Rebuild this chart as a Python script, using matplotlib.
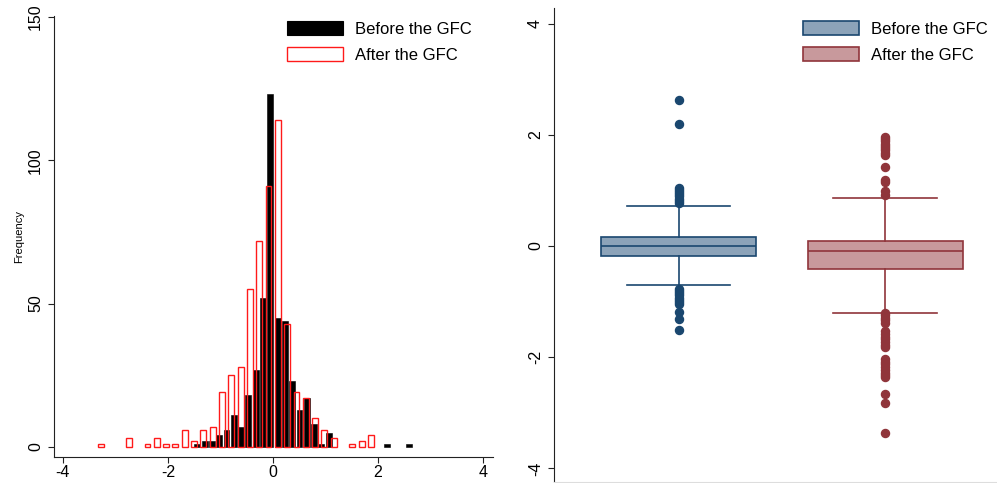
import matplotlib
matplotlib.use('Agg')
import matplotlib.pyplot as plt
from matplotlib.patches import Patch
import numpy as np

plt.rcParams['font.family'] = ['Liberation Sans', 'DejaVu Sans']

# ---------------- data ----------------
series_labels = ['Before the GFC', 'After the GFC']

# histogram (frequency) - Before the GFC
before_bin_start = -1.44
before_bin_width = 0.1389
before_counts = [1, 2, 2, 4, 6, 11, 7, 18, 27, 52, 123, 45, 44, 23, 13, 17, 8, 1, 5,
                 0, 0, 0, 0, 0, 0, 0, 1, 0, 0, 1]

# histogram (frequency) - After the GFC
after_bin_start = -3.276
after_bin_width = 0.1773
after_counts = [1, 0, 0, 3, 0, 1, 3, 1, 1, 6, 2, 6, 7, 19, 25, 28, 55, 72, 91, 114,
                43, 19, 17, 10, 6, 3, 0, 1, 2, 4]

hist_xticks = [-4, -2, 0, 2, 4]
hist_yticks = [0, 50, 100, 150]

# box plot summary - Before the GFC: whislo, q1, median, q3, whishi
before_box = [-0.70, -0.18, 0.0, 0.16, 0.72]
before_fliers = [0.77, 0.81, 0.85, 0.89, 0.93, 0.97, 1.01, 1.05, 2.19, 2.63,
                 -0.77, -0.81, -0.85, -0.89, -0.93, -0.97, -1.01, -1.04,
                 -1.19, -1.31, -1.51]

# box plot summary - After the GFC
after_box = [-1.21, -0.41, -0.09, 0.09, 0.86]
after_fliers = [1.64, 1.68, 1.72, 1.76, 1.80, 1.84, 1.88, 1.92, 1.96, 1.42, 1.19,
                1.15, 0.99, 0.92,
                -1.21, -1.25, -1.29, -1.33, -1.38, -1.53, -1.58, -1.63, -1.68,
                -1.73, -1.78, -1.82, -2.03, -2.08, -2.13, -2.18, -2.23, -2.28,
                -2.32, -2.36, -2.66, -2.82, -3.36]

box_yticks = [-4, -2, 0, 2, 4]

# ---------------- style ----------------
navy = '#1a476f'
navy_fill = '#8ca3b9'
maroon = '#90353b'
maroon_fill = '#c8999c'
red = '#ff1a1a'

W, H = 997, 483
fig = plt.figure(figsize=(W / 100, H / 100), dpi=100)

def fx(px):
    return px / W

def fy(py):
    return 1 - py / H

# ---------------- left: histogram ----------------
ax1 = fig.add_axes([fx(54), fy(457), fx(493) - fx(54), fy(16) - fy(457)])

bc = before_bin_start + before_bin_width * np.arange(len(before_counts))
bh = np.array(before_counts, dtype=float)
m = bh > 0
ax1.bar(bc[m], bh[m], width=0.112, color='black', edgecolor='black',
        linewidth=0.4, zorder=2)

ac = after_bin_start + after_bin_width * np.arange(len(after_counts))
ah = np.array(after_counts, dtype=float)
m = ah > 0
ax1.bar(ac[m], ah[m], width=0.112, facecolor='none', edgecolor=red,
        linewidth=1.0, zorder=3)

ax1.set_xlim(-4.17, 4.19)
ax1.set_ylim(-3.5, 150.3)
ax1.set_xticks(hist_xticks)
ax1.set_xticklabels([str(t) for t in hist_xticks])
ax1.set_yticks(hist_yticks)
ax1.set_yticklabels([str(t) for t in hist_yticks], rotation=90, va='center')
ax1.set_ylabel('Frequency', fontsize=8, labelpad=3)
for s in ['top', 'right']:
    ax1.spines[s].set_visible(False)
for s in ['left', 'bottom']:
    ax1.spines[s].set_linewidth(0.8)
    ax1.spines[s].set_color('#222222')
ax1.tick_params(axis='both', labelsize=11.5, length=4, width=0.8, color='#222222')
ax1.tick_params(axis='y', pad=4)
ax1.tick_params(axis='x', pad=2)

h1 = [Patch(facecolor='black', edgecolor='black', linewidth=0.8),
      Patch(facecolor='white', edgecolor=red, linewidth=1.0)]
ax1.legend(h1, series_labels, loc='upper left',
           bbox_to_anchor=(fx(287), fy(21)), bbox_transform=fig.transFigure,
           frameon=False, fontsize=12, handlelength=3.35, handleheight=0.9,
           handletextpad=0.75, labelspacing=0.62, borderpad=0, borderaxespad=0)

# ---------------- right: box plots ----------------
ax2 = fig.add_axes([fx(554), fy(482), fx(997) - fx(554), fy(8) - fy(482)])

stats = []
for q, fl, lab in [(before_box, before_fliers, series_labels[0]),
                   (after_box, after_fliers, series_labels[1])]:
    stats.append(dict(whislo=q[0], q1=q[1], med=q[2], q3=q[3], whishi=q[4],
                      fliers=fl, label=lab))

for i, (st, ec, fc) in enumerate([(stats[0], navy, navy_fill),
                                  (stats[1], maroon, maroon_fill)]):
    ax2.bxp([st], positions=[i + 1], widths=0.75, capwidths=0.5,
            patch_artist=True, showfliers=True,
            boxprops=dict(facecolor=fc, edgecolor=ec, linewidth=1.2),
            medianprops=dict(color=ec, linewidth=1.2),
            whiskerprops=dict(color=ec, linewidth=1.2),
            capprops=dict(color=ec, linewidth=1.2),
            flierprops=dict(marker='o', markerfacecolor=ec, markeredgecolor=ec,
                            markersize=5.8, linestyle='none'))

ax2.set_xlim(0.397, 2.542)
ax2.set_ylim(-4.245, 4.28)
ax2.set_xticks([])
ax2.set_yticks(box_yticks)
ax2.set_yticklabels([str(t) for t in box_yticks], rotation=90, va='center')
for s in ['top', 'right']:
    ax2.spines[s].set_visible(False)
ax2.spines['left'].set_linewidth(0.8)
ax2.spines['left'].set_color('#222222')
ax2.spines['bottom'].set_linewidth(0.8)
ax2.spines['bottom'].set_color('#dddddd')
ax2.tick_params(axis='y', labelsize=11.5, length=4, width=0.8, color='#222222', pad=4)

h2 = [Patch(facecolor=navy_fill, edgecolor=navy, linewidth=1.2),
      Patch(facecolor=maroon_fill, edgecolor=maroon, linewidth=1.2)]
ax2.legend(h2, series_labels, loc='upper left',
           bbox_to_anchor=(fx(803), fy(21)), bbox_transform=fig.transFigure,
           frameon=False, fontsize=12, handlelength=3.35, handleheight=0.9,
           handletextpad=0.75, labelspacing=0.62, borderpad=0, borderaxespad=0)

fig.savefig('out.png', dpi=100)
